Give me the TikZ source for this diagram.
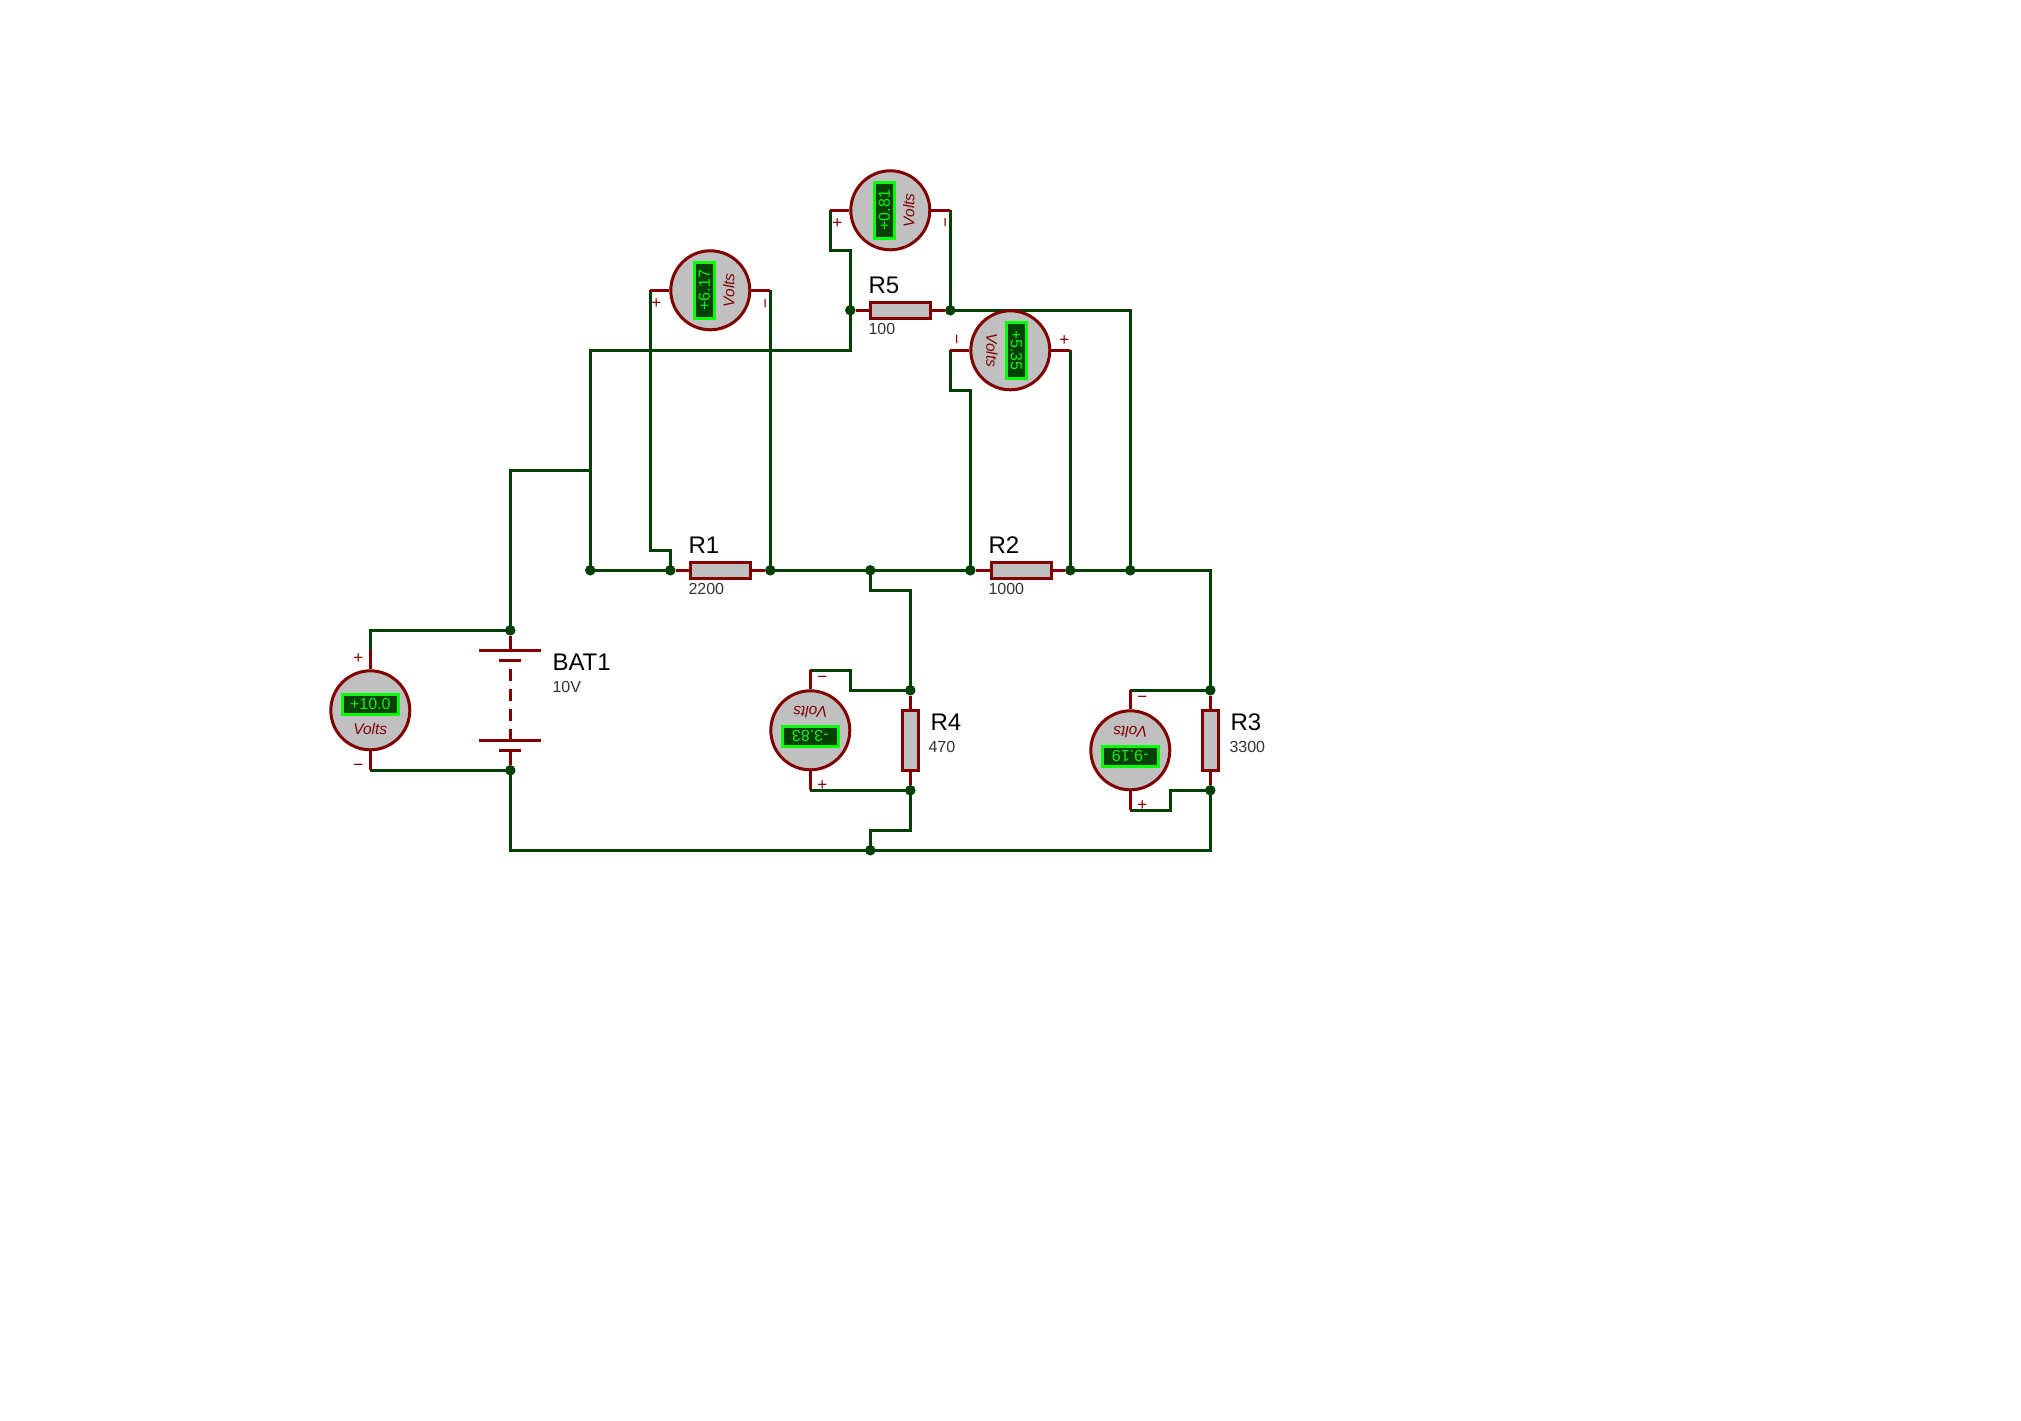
\documentclass[tikz,border=0pt]{standalone}
\usepackage{fontspec}
\setmainfont{Liberation Sans}
\usetikzlibrary{calc}
\definecolor{wirec}{HTML}{004000}
\definecolor{redc}{HTML}{800000}
\definecolor{grayc}{HTML}{C0C0C0}
\definecolor{lcd}{HTML}{00FF00}
\definecolor{lcdtext}{HTML}{10F010}
\tikzset{
  wire/.style={draw=wirec,line width=3pt,line join=miter},
  lead/.style={draw=redc,line width=3pt},
  junc/.style={circle,fill=wirec,inner sep=0pt,minimum size=10.5pt},
  resH/.style={rectangle,draw=redc,fill=grayc,line width=3pt,minimum width=60pt,minimum height=16pt,inner sep=0pt},
  resV/.style={rectangle,draw=redc,fill=grayc,line width=3pt,minimum width=16pt,minimum height=60pt,inner sep=0pt},
  meter/.style={circle,draw=redc,fill=grayc,line width=3pt,minimum size=79pt,inner sep=0pt},
  lcdbox/.style={rectangle,draw=lcd,fill=wirec,line width=2.4pt,minimum width=56pt,minimum height=20pt,inner sep=0pt,text=lcdtext,font=\fontsize{16}{16}\selectfont},
  volts/.style={inner sep=0pt,text=redc,font=\fontsize{15.5}{16}\selectfont\itshape},
  pm/.style={inner sep=0pt,text=redc,font=\fontsize{17}{17}\selectfont},
  big/.style={inner sep=0pt,anchor=base west,text=black,font=\fontsize{24}{24}\selectfont},
  small/.style={inner sep=0pt,anchor=base west,text=black!80,font=\fontsize{16}{16}\selectfont},
}
% name, x, y, rotation, value
\newcommand{\voltm}[5]{%
  \node[meter] (#1) at (#2,#3) {};
  \pgfmathsetmacro{\mysin}{sin(#4)}
  \pgfmathsetmacro{\mycos}{cos(#4)}
  \node[lcdbox,rotate=#4] (#1d) at ($(#1)+(-6*\mysin,-6*\mycos)$) {#5};
  \node[volts,rotate=#4] (#1v) at ($(#1)+(18.5*\mysin,18.5*\mycos)$) {Volts};
}
\begin{document}
\begin{tikzpicture}[x=1pt,y=-1pt]
\useasboundingbox (0,0) rectangle (2021,1421);
\fill[white] (0,0) rectangle (2021,1421);
\begin{scope}[xshift=0.3pt,yshift=-0.3pt]
% junctions
\node[junc] (jBt) at (510,630) {};
\node[junc] (jBb) at (510,770) {};
\node[junc] (jL)  at (590,570) {};
\node[junc] (jR1a) at (670,570) {};
\node[junc] (jR1b) at (770,570) {};
\node[junc] (jM)  at (870,570) {};
\node[junc] (jR2a) at (970,570) {};
\node[junc] (jR2b) at (1070,570) {};
\node[junc] (jT)  at (1130,570) {};
\node[junc] (jR5a) at (850,310) {};
\node[junc] (jR5b) at (950,310) {};
\node[junc] (jR4t) at (910,690) {};
\node[junc] (jR4b) at (910,790) {};
\node[junc] (jR3t) at (1210,690) {};
\node[junc] (jR3b) at (1210,790) {};
\node[junc] (jG)  at (870,850) {};
% free corners and terminals
\coordinate (cRight) at (1210,570);
\coordinate (cBot) at (510,850);
\coordinate (cBotR) at (1210,850);
\coordinate (cTop) at (590,470);
\coordinate (cTop2) at (510,470);
\coordinate (cR5in) at (850,350);
\coordinate (cR5out) at (1130,310);
\coordinate (cL) at (590,350);
\coordinate (t1a) at (370,650);
\coordinate (t1b) at (370,770);
\coordinate (t1c) at (370,630);
\coordinate (t2a) at (650,290);
\coordinate (t2b) at (770,290);
\coordinate (t2c) at (650,550);
\coordinate (t2d) at (670,550);
\coordinate (t3a) at (830,210);
\coordinate (t3b) at (950,210);
\coordinate (t3c) at (830,250);
\coordinate (t3d) at (850,250);
\coordinate (t4a) at (950,350);
\coordinate (t4b) at (1070,350);
\coordinate (t4c) at (950,390);
\coordinate (t4d) at (970,390);
\coordinate (t5a) at (810,670);
\coordinate (t5b) at (810,790);
\coordinate (t5c) at (850,670);
\coordinate (t5d) at (850,690);
\coordinate (t6a) at (1130,690);
\coordinate (t6b) at (1130,810);
\coordinate (t6c) at (1170,810);
\coordinate (t6d) at (1170,790);
\coordinate (c1) at (870,590);
\coordinate (c2) at (910,590);
\coordinate (c3) at (910,830);
\coordinate (c4) at (870,830);
% wires
\draw[wire] (jBt.center) -- (cTop2) -- (cTop);
\draw[wire] (jL.center) -- (cL) -- (cR5in) -- (jR5a.center);
\draw[wire] (jL.center) -- (jR1a.center);
\draw[wire] (jR1b.center) -- (jR2a.center);
\draw[wire] (jR2b.center) -- (cRight) -- (jR3t.center);
\draw[wire] (jR3t.center) -- (t6a);
\draw[wire] (jM.center) -- (c1) -- (c2) -- (jR4t.center);
\draw[wire] (jR4t.center) -- (t5d) -- (t5c) -- (t5a);
\draw[wire] (jR4b.center) -- (t5b);
\draw[wire] (jR4b.center) -- (c3) -- (c4) -- (jG.center);
\draw[wire] (jBb.center) -- (cBot) -- (cBotR) -- (jR3b.center);
\draw[wire] (jR3b.center) -- (t6d) -- (t6c) -- (t6b);
\draw[wire] (jBt.center) -- (t1c) -- (t1a);
\draw[wire] (jBb.center) -- (t1b);
\draw[wire] (t2a) -- (t2c) -- (t2d) -- (jR1a.center);
\draw[wire] (t2b) -- (jR1b.center);
\draw[wire] (t3a) -- (t3c) -- (t3d) -- (jR5a.center);
\draw[wire] (t3b) -- (jR5b.center);
\draw[wire] (jR5b.center) -- (cR5out) -- (jT.center);
\draw[wire] (t4a) -- (t4c) -- (t4d) -- (jR2a.center);
\draw[wire] (t4b) -- (jR2b.center);
% resistors
\node[resH] (R1) at (720.5,570) {};
\node[resH] (R2) at (1021.5,570) {};
\node[resH] (R5) at (900.5,310) {};
\node[resV] (R4) at (910,740) {};
\node[resV] (R3) at (1210,740) {};
\draw[lead] (jR1a) -- (R1) (R1) -- (jR1b);
\draw[lead] (jR2a) -- (R2) (R2) -- (jR2b);
\draw[lead] (jR5a) -- (R5) (R5) -- (jR5b);
\draw[lead] (jR4t) -- (R4) (R4) -- (jR4b);
\draw[lead] (jR3t) -- (R3) (R3) -- (jR3b);
% battery
\coordinate (p1) at (510,650);
\coordinate (p2) at (510,660);
\coordinate (p3) at (510,740);
\coordinate (p4) at (510,750);
\coordinate (p5) at (510,669);
\draw[lead] (jBt) -- (p1);
\draw[lead] (p4) -- (jBb);
\draw[lead] ($(p1)+(-31,0)$) -- ($(p1)+(31,0)$);
\draw[lead] ($(p2)+(-11,0)$) -- ($(p2)+(11,0)$);
\draw[lead] ($(p3)+(-31,0)$) -- ($(p3)+(31,0)$);
\draw[lead] ($(p4)+(-11,0)$) -- ($(p4)+(11,0)$);
\draw[lead,dash pattern=on 12pt off 8pt] (p5) -- (p3);
% meters
\voltm{V1}{370}{710}{0}{+10.0}
\voltm{V2}{710}{290}{90}{+6.17}
\voltm{V3}{890}{210}{90}{+0.81}
\voltm{V4}{1010}{350}{-90}{+5.35}
\voltm{V5}{810}{730}{180}{-3.83}
\voltm{V6}{1130}{750}{180}{-9.19}
\draw[lead] (t1a) -- (V1) (V1) -- (t1b);
\draw[lead] (t2a) -- (V2) (V2) -- (t2b);
\draw[lead] (t3a) -- (V3) (V3) -- (t3b);
\draw[lead] (t4a) -- (V4) (V4) -- (t4b);
\draw[lead] (t5a) -- (V5) (V5) -- (t5b);
\draw[lead] (t6a) -- (V6) (V6) -- (t6b);
% polarity marks
\node[pm] (m1) at (358,658) {+};
\node[pm] (m2) at (358,767) {−};
\node[pm] (m3) at (656,303) {+};
\node[pm,rotate=90] (m4) at (767.5,303) {−};
\node[pm] (m5) at (837,223) {+};
\node[pm,rotate=90] (m6) at (947.5,222) {−};
\node[pm,rotate=-90] (m7) at (954,339) {−};
\node[pm] (m8) at (1064,340) {+};
\node[pm] (m9) at (822,679) {−};
\node[pm] (m10) at (822,785) {+};
\node[pm] (m11) at (1142,699) {−};
\node[pm] (m12) at (1142,805) {+};
% labels
\node[big] (lB) at (552,670) {BAT1};
\node[small] (lBv) at (552,692) {10V};
\node[big] (l1) at (688,553) {R1};
\node[small] (l1v) at (688,594) {2200};
\node[big] (l2) at (988,553) {R2};
\node[small] (l2v) at (988,594) {1000};
\node[big] (l5) at (868,293) {R5};
\node[small] (l5v) at (868,334) {100};
\node[big] (l4) at (930,730) {R4};
\node[small] (l4v) at (928,752) {470};
\node[big] (l3) at (1230,730) {R3};
\node[small] (l3v) at (1229,752) {3300};
\end{scope}
\end{tikzpicture}
\end{document}
